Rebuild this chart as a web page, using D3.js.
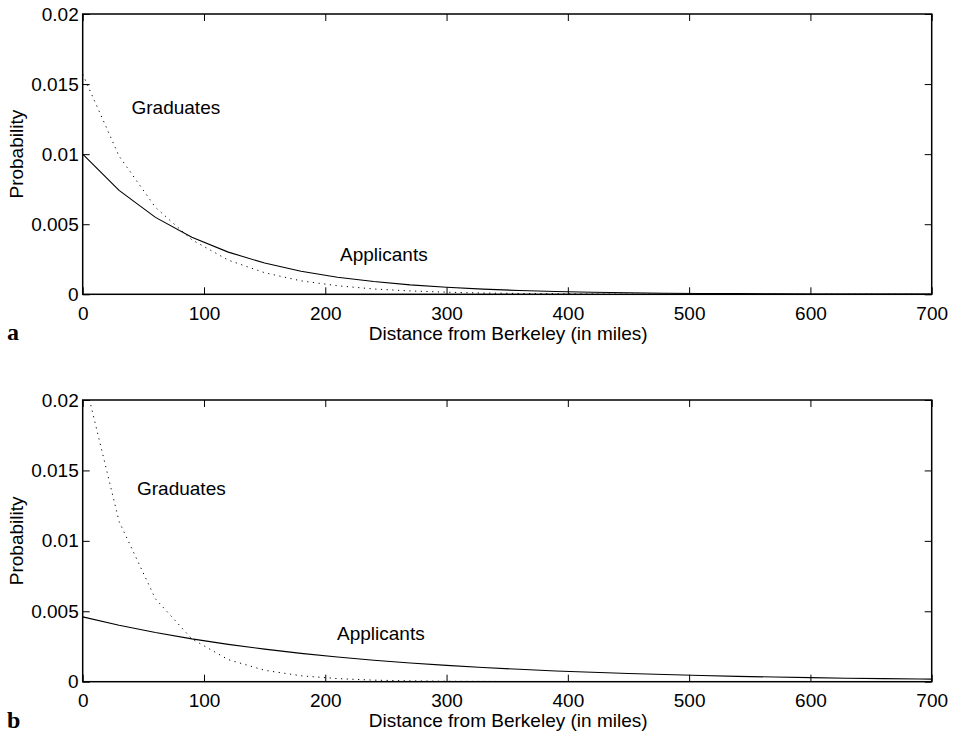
<!DOCTYPE html>
<html>
<head>
<meta charset="utf-8">
<script src="https://cdn.jsdelivr.net/npm/d3@7"></script>
<style>
  html, body { margin: 0; padding: 0; background: #fff; }
  svg { display: block; }
</style>
</head>
<body>
<svg id="chart" width="956" height="735"></svg>
<script>
// ---- Data ----
const distance = [0,30,60,90,120,150,180,210,240,270,300,330,360,390,420,450,480,510,540,570,600,630,660,690,700];

const applicantsA = [0.0100,0.00741,0.00549,0.00407,0.00301,0.00223,0.00165,0.00122,0.00091,0.00067,0.00050,0.00037,0.00027,0.00020,0.00015,0.00011,0.00008,0.00006,0.00005,0.00003,0.00002,0.00002,0.00001,0.00001,0.00001];
const graduatesA  = [0.0157,0.00986,0.00620,0.00389,0.00244,0.00154,0.00096,0.00061,0.00038,0.00024,0.00015,0.00009,0.00006,0.00004,0.00002,0.00001,0.00001,0,0,0,0,0,0,0,0];

const applicantsB = [0.00460,0.00401,0.00349,0.00304,0.00265,0.00231,0.00201,0.00175,0.00152,0.00133,0.00116,0.00101,0.00088,0.00076,0.00067,0.00058,0.00051,0.00044,0.00038,0.00033,0.00029,0.00025,0.00022,0.00019,0.00018];
const graduatesB  = [0.0220,0.01137,0.00588,0.00304,0.00157,0.00081,0.00042,0.00022,0.00011,0.00006,0.00003,0.00002,0.00001,0,0,0,0,0,0,0,0,0,0,0,0];

const xTicks = [0,100,200,300,400,500,600,700];
const yTicks = [0,0.005,0.01,0.015,0.02];
const yTickLabels = ["0","0.005","0.01","0.015","0.02"];

const xLabel = "Distance from Berkeley (in miles)";
const yLabel = "Probability";

const panels = [
  { id: "a", applicants: applicantsA, graduates: graduatesA, top: 14, bottom: 294.3,
    gradLabel: [131.5, 114], appLabel: [340, 261], xLabelY: 340, panelLabelY: 340 },
  { id: "b", applicants: applicantsB, graduates: graduatesB, top: 400, bottom: 681.7,
    gradLabel: [137, 495], appLabel: [337, 640], xLabelY: 726.5, panelLabelY: 728 }
];

// ---- Drawing ----
const svg = d3.select("#chart");
const left = 82.7, right = 931.7;
const FS = 19;
const SANS = "'Liberation Sans', Arial, Helvetica, sans-serif";
const SERIF = "'Liberation Serif', 'Times New Roman', Times, serif";

const x = d3.scaleLinear().domain([0, 700]).range([left, right]);

panels.forEach((p, i) => {
  const y = d3.scaleLinear().domain([0, 0.02]).range([p.bottom, p.top]);
  const g = svg.append("g");

  const clipId = "clip" + i;
  svg.append("clipPath").attr("id", clipId)
    .append("rect")
    .attr("x", left).attr("y", p.top)
    .attr("width", right - left).attr("height", p.bottom - p.top);

  // Axes (inward ticks on all four sides)
  const fmtY = d => yTickLabels[yTicks.indexOf(d)];
  const axB = g.append("g").attr("transform", `translate(0,${p.bottom})`)
    .call(d3.axisBottom(x).tickValues(xTicks).tickSize(-7).tickPadding(12).tickFormat(d3.format("d")));
  const axT = g.append("g").attr("transform", `translate(0,${p.top})`)
    .call(d3.axisTop(x).tickValues(xTicks).tickSize(-7).tickFormat(""));
  const axL = g.append("g").attr("transform", `translate(${left},0)`)
    .call(d3.axisLeft(y).tickValues(yTicks).tickSize(-7).tickPadding(4).tickFormat(fmtY));
  const axR = g.append("g").attr("transform", `translate(${right},0)`)
    .call(d3.axisRight(y).tickValues(yTicks).tickSize(-7).tickFormat(""));

  [axB, axT, axL, axR].forEach(a => {
    a.select(".domain").remove();
    a.selectAll(".tick line").attr("stroke", "#000").attr("stroke-width", 1);
    a.selectAll(".tick text").attr("font-size", FS)
      .attr("font-family", SANS).attr("fill", "#000");
  });

  // Frame
  g.append("rect")
    .attr("x", left).attr("y", p.top)
    .attr("width", right - left).attr("height", p.bottom - p.top)
    .attr("fill", "none").attr("stroke", "#000").attr("stroke-width", 1.5);

  const line = d3.line().x((d, j) => x(distance[j])).y(d => y(d));

  // Graduates (dotted)
  g.append("path")
    .datum(p.graduates)
    .attr("clip-path", `url(#${clipId})`)
    .attr("d", line)
    .attr("fill", "none").attr("stroke", "#000").attr("stroke-width", 1)
    .attr("stroke-dasharray", "1.2,4.5");

  // Applicants (solid)
  g.append("path")
    .datum(p.applicants)
    .attr("clip-path", `url(#${clipId})`)
    .attr("d", line)
    .attr("fill", "none").attr("stroke", "#000").attr("stroke-width", 1.1);

  // Curve labels
  g.append("text").attr("x", p.gradLabel[0]).attr("y", p.gradLabel[1])
    .attr("font-family", SANS).attr("font-size", FS).text("Graduates");
  g.append("text").attr("x", p.appLabel[0]).attr("y", p.appLabel[1])
    .attr("font-family", SANS).attr("font-size", FS).text("Applicants");

  // Axis labels
  g.append("text").attr("x", (left + right) / 2 + 1).attr("y", p.xLabelY)
    .attr("text-anchor", "middle").attr("font-family", SANS).attr("font-size", FS).text(xLabel);
  g.append("text")
    .attr("transform", `translate(23,${(p.top + p.bottom) / 2}) rotate(-90)`)
    .attr("text-anchor", "middle").attr("font-family", SANS).attr("font-size", FS).text(yLabel);

  // Panel letter
  g.append("text").attr("x", 7).attr("y", p.panelLabelY)
    .attr("font-family", SERIF)
    .attr("font-weight", "bold").attr("font-size", 24).text(p.id);
});
</script>
</body>
</html>
